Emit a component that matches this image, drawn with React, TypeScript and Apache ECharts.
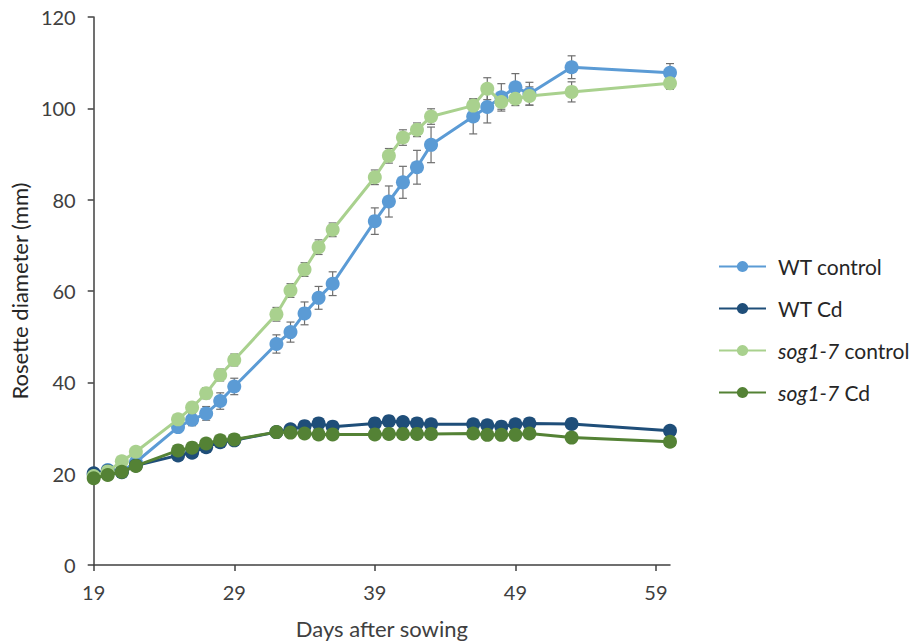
import React, { useEffect, useRef } from "react";
import * as echarts from "echarts";

const days = [19, 20, 21, 22, 25, 26, 27, 28, 29, 32, 33, 34, 35, 36, 39, 40, 41, 42, 43, 46, 47, 48, 49, 50, 53, 60];

const wtControl = [19.8, 20.8, 20.5, 22.5, 30.2, 31.8, 33.2, 35.9, 39.1, 48.4, 51.0, 55.1, 58.5, 61.6, 75.3, 79.6, 83.8, 87.1, 92.0, 98.2, 100.3, 102.4, 104.6, 103.2, 109.0, 107.8];
const wtControlErr = [0.5, 0.5, 0.5, 0.7, 1.0, 1.3, 1.5, 1.8, 1.8, 2.0, 2.2, 2.5, 2.5, 2.6, 2.9, 3.4, 3.5, 3.7, 3.9, 3.8, 3.5, 3.0, 3.0, 2.5, 2.5, 2.0];

const wtCd = [20.1, 20.6, 20.3, 21.8, 24.0, 24.6, 25.8, 26.9, 27.3, 29.1, 29.7, 30.4, 31.0, 30.3, 31.0, 31.5, 31.3, 31.0, 30.8, 30.8, 30.6, 30.3, 30.8, 31.0, 30.9, 29.4];
const wtCdErr = [0.5, 0.5, 0.5, 0.5, 0.6, 0.6, 0.6, 0.6, 0.6, 0.6, 0.6, 0.7, 0.7, 0.6, 0.7, 0.7, 0.7, 0.7, 0.7, 0.7, 0.7, 0.7, 0.8, 1.0, 1.0, 0.8];

const sogControl = [19.5, 20.5, 22.7, 24.8, 31.9, 34.5, 37.6, 41.6, 44.9, 54.9, 60.1, 64.7, 69.6, 73.4, 84.9, 89.6, 93.6, 95.3, 98.2, 100.6, 104.3, 101.4, 102.1, 102.7, 103.6, 105.5];
const sogControlErr = [0.5, 0.5, 0.6, 0.8, 1.0, 1.1, 1.2, 1.3, 1.3, 1.5, 1.5, 1.5, 1.6, 1.5, 1.6, 1.6, 1.7, 1.5, 1.7, 1.5, 2.4, 1.6, 1.5, 2.0, 2.2, 1.3];

const sogCd = [19.0, 19.7, 20.4, 21.7, 25.1, 25.7, 26.6, 27.3, 27.5, 29.1, 29.0, 28.8, 28.6, 28.6, 28.6, 28.7, 28.7, 28.7, 28.7, 28.8, 28.5, 28.5, 28.5, 28.8, 27.9, 27.0];
const sogCdErr = [0.5, 0.5, 0.5, 0.5, 0.5, 0.5, 0.5, 0.5, 0.5, 0.5, 0.5, 0.5, 0.5, 0.5, 0.5, 0.5, 0.5, 0.5, 0.5, 0.5, 0.5, 0.5, 0.5, 0.6, 0.6, 0.6];

const xTicks = [19, 29, 39, 49, 59];
const seriesNames = ["WT control", "WT Cd", "sog1-7 control", "sog1-7 Cd"];
const colors = ["#5B9BD5", "#1F4E79", "#A9D18E", "#548235"];

const FONT = "Lato";

export default function App() {
  const ref = useRef<HTMLDivElement>(null);
  useEffect(() => {
    if (!ref.current) return;
    const chart = echarts.init(ref.current, null, { renderer: "svg" });
    const allVals = [wtControl, wtCd, sogControl, sogCd];
    const allErr = [wtControlErr, wtCdErr, sogControlErr, sogCdErr];

    const lineSeries = allVals.map((vals, i) => ({
      name: seriesNames[i],
      type: "line",
      data: days.map((d, j) => [d, vals[j]]),
      symbol: "circle",
      symbolSize: 14,
      lineStyle: { color: colors[i], width: 3 },
      itemStyle: { color: colors[i] },
      z: 3 + i,
    }));

    const errSeries = allVals.map((vals, i) => ({
      name: seriesNames[i] + " err",
      type: "custom",
      data: days.map((d, j) => [d, vals[j] - allErr[i][j], vals[j] + allErr[i][j]]),
      renderItem: (params: any, api: any) => {
        const x = api.value(0);
        const lo = api.coord([x, api.value(1)]);
        const hi = api.coord([x, api.value(2)]);
        const cap = 4;
        const style = { stroke: "#6f6f6f", lineWidth: 1.2 };
        return {
          type: "group",
          children: [
            { type: "line", shape: { x1: lo[0], y1: lo[1], x2: hi[0], y2: hi[1] }, style },
            { type: "line", shape: { x1: lo[0] - cap, y1: lo[1], x2: lo[0] + cap, y2: lo[1] }, style },
            { type: "line", shape: { x1: hi[0] - cap, y1: hi[1], x2: hi[0] + cap, y2: hi[1] }, style },
          ],
        };
      },
      z: 2,
      silent: true,
    }));

    chart.setOption({
      animation: false,
      grid: { left: 91, right: 247, top: 17, bottom: 78, containLabel: false },
      legend: {
        data: seriesNames,
        orient: "vertical",
        left: 713,
        top: 251,
        itemWidth: 47,
        itemHeight: 14,
        itemGap: 21,
        textStyle: {
          fontFamily: FONT,
          fontSize: 21,
          color: "#262626",
          padding: [0, 0, 0, 7],
          rich: {
            it: { fontStyle: "italic", fontFamily: FONT, fontSize: 21, color: "#262626" },
            n: { fontFamily: FONT, fontSize: 21, color: "#262626" },
          },
        },
        formatter: (name: string) => {
          if (name.startsWith("sog1-7")) {
            return "{it|sog1-7}{n|" + name.slice(6) + "}";
          }
          return name;
        },
      },
      xAxis: {
        type: "value",
        min: 19,
        max: 60,
        name: "Days after sowing",
        nameLocation: "middle",
        nameGap: 52,
        nameTextStyle: { fontFamily: FONT, fontSize: 22, color: "#404040" },
        axisLine: { show: true, onZero: false, lineStyle: { color: "#404040", width: 1.5 } },
        axisTick: { show: true, length: 6, customValues: xTicks, lineStyle: { color: "#404040", width: 1.5 } },
        axisLabel: { customValues: xTicks, fontFamily: FONT, fontSize: 20, color: "#404040", margin: 17 },
        splitLine: { show: false },
      },
      yAxis: {
        type: "value",
        min: 0,
        max: 120,
        interval: 20,
        name: "Rosette diameter (mm)",
        nameLocation: "middle",
        nameGap: 60,
        nameRotate: 90,
        nameTextStyle: { fontFamily: FONT, fontSize: 22, color: "#262626" },
        axisLine: { show: true, lineStyle: { color: "#404040", width: 1.5 } },
        axisTick: { show: true, length: 6, lineStyle: { color: "#404040", width: 1.5 } },
        axisLabel: { fontFamily: FONT, fontSize: 20, color: "#404040", margin: 18 },
        splitLine: { show: false },
      },
      series: [...errSeries, ...lineSeries],
    });
    return () => chart.dispose();
  }, []);
  return <div ref={ref} style={{ width: 917, height: 644, position: "absolute", left: 0, top: 0 }} />;
}
